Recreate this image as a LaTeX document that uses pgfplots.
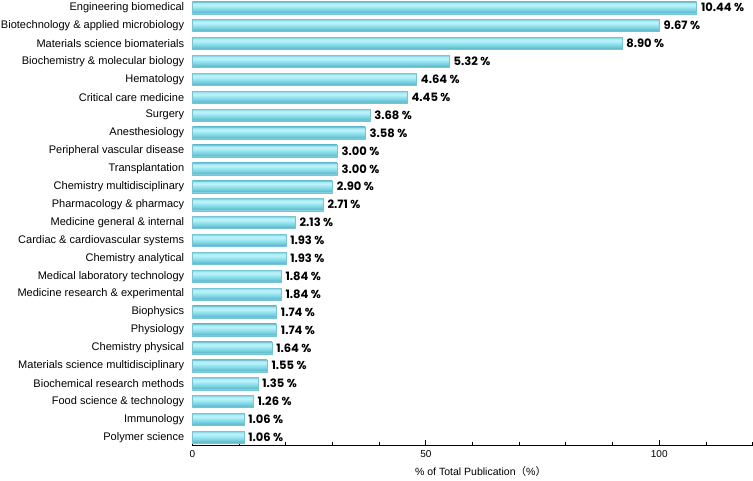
\documentclass[border=0pt]{standalone}
\usepackage{fontspec}
\setmainfont{Liberation Sans}
\newfontfamily\valfont{Poppins}
\newfontfamily\cjk{Noto Sans CJK SC}
\usepackage{pgfplots}
\usepackage{pgfplotstable}
\pgfplotsset{compat=1.18}
\definecolor{sA}{RGB}{165,230,240}
\definecolor{sB}{RGB}{98,188,206}
\definecolor{sC}{RGB}{122,210,225}
\definecolor{sD}{RGB}{148,228,240}
\definecolor{sE}{RGB}{190,242,249}
\definecolor{sG}{RGB}{172,236,245}
\definecolor{sF}{RGB}{122,204,220}
\definecolor{barEdge}{RGB}{118,196,212}
\pgfdeclareverticalshading{barshade}{100bp}{color(0bp)=(sA); color(25bp)=(sA); color(31bp)=(sB); color(40bp)=(sC); color(50bp)=(sD); color(61bp)=(sE); color(69bp)=(sG); color(75bp)=(sF); color(100bp)=(sF)}
\pgfplotstableread{
x y lab
108 24 10.44
100 23 9.67
92 22 8.90
55 21 5.32
48 20 4.64
46 19 4.45
38 18 3.68
37 17 3.58
31 16 3.00
31 15 3.00
30 14 2.90
28 13 2.71
22 12 2.13
20 11 1.93
20 10 1.93
19 9 1.84
19 8 1.84
18 7 1.74
18 6 1.74
17 5 1.64
16 4 1.55
14 3 1.35
13 2 1.26
11 1 1.06
11 0 1.06
}\datatable
\begin{document}
\begin{tikzpicture}
\begin{axis}[
  scale only axis,
  width=557bp, height=442bp,
  xmin=0, xmax=120,
  ymin=-0.45, ymax=24.38,
  axis x line*=bottom, axis y line*=left,
  y axis line style={draw=none},
  ytick style={draw=none},
  x axis line style={line width=0.8pt},
  xtick={0,50,100},
  minor xtick={10,20,30,40,60,70,80,90,110,120},
  tick align=inside,
  major tick length=5bp, minor tick length=3bp,
  every tick/.style={black, line width=0.8pt},
  ytick={0,...,24},
  yticklabels={Polymer science, Immunology, Food science \& technology, Biochemical research methods, Materials science multidisciplinary, Chemistry physical, Physiology, Biophysics, Medicine research \& experimental, Medical laboratory technology, Chemistry analytical, Cardiac \& cardiovascular systems, Medicine general \& internal, Pharmacology \& pharmacy, Chemistry multidisciplinary, Transplantation, Peripheral vascular disease, Anesthesiology, Surgery, Critical care medicine, Hematology, Biochemistry \& molecular biology, Materials science biomaterials, Biotechnology \& applied microbiology, Engineering biomedical},
  yticklabel style={font=\fontsize{11}{13}\selectfont, inner sep=1pt, xshift=-7bp},
  xticklabel style={font=\fontsize{10}{12}\selectfont, yshift=-2bp},
  /pgf/number format/assume math mode=true,
  xlabel={\% of Total Publication{\cjk（}\%{\cjk）}},
  xlabel style={font=\fontsize{10.5}{12}\selectfont, yshift=-2bp, xshift=8bp},
  clip=false,
]
\pgfplotsinvokeforeach{0,...,24}{
\addplot[xbar, bar width=12bp, draw=barEdge, line width=0.3pt, shading=barshade,
  restrict y to domain=#1:#1,
  point meta=explicit symbolic,
  nodes near coords={\valfont\bfseries\pgfplotspointmeta{} \%},
  nodes near coords style={font=\fontsize{11.5}{13}\selectfont, black, anchor=west, xshift=1bp}]
  table[x=x, y=y, meta=lab]{\datatable};
}
\end{axis}
\end{tikzpicture}
\end{document}
